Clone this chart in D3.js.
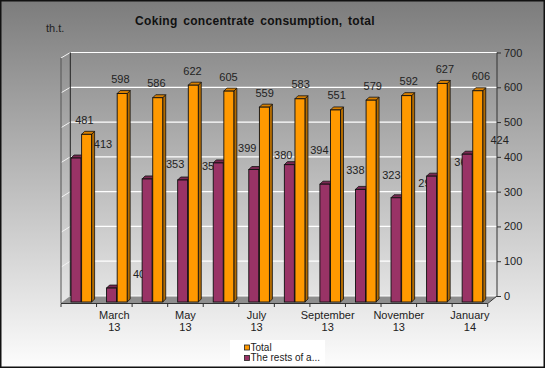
<!DOCTYPE html>
<html>
<head>
<meta charset="utf-8">
<script src="https://cdn.jsdelivr.net/npm/d3@7"></script>
<style>
  html, body { margin: 0; padding: 0; background: #fff; }
  svg { display: block; }
  text { font-family: "Liberation Sans", Arial, sans-serif; }
</style>
</head>
<body>
<svg id="chart" width="545" height="368"></svg>
<script>
// ---- data ----
const categories = ["February 13", "March 13", "April 13", "May 13", "June 13", "July 13",
  "August 13", "September 13", "October 13", "November 13", "December 13", "January 14"];
const totalValues = [481, 598, 586, 622, 605, 559, 583, 551, 579, 592, 627, 606];
const restValues  = [413, 40, 353, 350, 399, 380, 394, 338, 323, 299, 361, 424];
const seriesNames = ["Total", "The rests of a..."];
const yTicks = [0, 100, 200, 300, 400, 500, 600, 700];
const titleText = "Coking concentrate  consumption, total";
const unitText = "th.t.";

// ---- layout ----
const W = 545, H = 368;
const svg = d3.select("#chart");
const defs = svg.append("defs");
const grad = defs.append("linearGradient").attr("id", "bg").attr("x1", 0).attr("y1", 0).attr("x2", 0).attr("y2", 1);
grad.append("stop").attr("offset", "0%").attr("stop-color", "#7c7c7c");
grad.append("stop").attr("offset", "100%").attr("stop-color", "#fdfdfd");

svg.append("rect").attr("x", 0).attr("y", 0).attr("width", W).attr("height", H).attr("fill", "url(#bg)");

const front = { left: 61, right: 487.7, bottom: 302, top: 58 };
const DX = 9.3, DY = -6;   // depth offset from front plane to back wall
const BD = 3;              // bar depth

const x = d3.scaleBand().domain(categories).range([front.left, front.right]).padding(0);
const inner = d3.scaleBand().domain(["rest", "total"]).range([10, 30.6]).paddingInner(0.06);
const yF = d3.scaleLinear().domain([0, 700]).range([front.bottom, front.top]);
const yB = d3.scaleLinear().domain([0, 700]).range([front.bottom + DY, 52.5]);
const labX = d3.scaleBand().domain(categories).range([57, 57 + 12 * 36.05]);

const backL = front.left + DX, backR = front.right + DX;

// floor
svg.append("polygon")
  .attr("points", [[backL, yB(0)], [backR, yB(0)], [front.right, front.bottom + 1], [front.left, front.bottom + 1]].map(p => p.join(",")).join(" "))
  .attr("fill", "#8e8e8e");

// gridlines on back wall and left wall
yTicks.forEach(t => {
  svg.append("line").attr("x1", backL).attr("x2", backR).attr("y1", yB(t)).attr("y2", yB(t))
    .attr("stroke", "#ffffff").attr("stroke-width", 1.2);
  if (t > 0) {
    svg.append("line").attr("x1", front.left).attr("y1", yF(t)).attr("x2", backL).attr("y2", yB(t))
      .attr("stroke", "#f4f4f4").attr("stroke-width", 1);
  }
});
// left wall edges
svg.append("line").attr("x1", backL).attr("x2", backL).attr("y1", yB(700)).attr("y2", yB(0))
  .attr("stroke", "#222").attr("stroke-width", 1);
svg.append("line").attr("x1", front.left).attr("x2", front.left).attr("y1", yF(700)).attr("y2", front.bottom + 1)
  .attr("stroke", "#555").attr("stroke-width", 1);

// right axis
const rAxis = svg.append("g").attr("transform", `translate(${backR},0)`)
  .call(d3.axisRight(yB).tickValues(yTicks).tickSize(4).tickPadding(3).tickFormat(d3.format("d")));
rAxis.select(".domain").attr("stroke", "#333").attr("d", `M0,${yB(700)}V${yB(0)}`);
rAxis.selectAll(".tick line").attr("stroke", "#333");
rAxis.selectAll(".tick text").attr("fill", "#222").style("font-size", "11px")
  .style("font-family", "'Liberation Sans', Arial, sans-serif");

// bottom axis line
const axY = front.bottom + 1.5;
svg.append("path")
  .attr("d", `M${front.left},${axY}H${front.right}L${backR},${yB(0)}`)
  .attr("fill", "none").attr("stroke", "#333").attr("stroke-width", 1);
const bounds = categories.map(c => x(c)).concat([x(categories[categories.length - 1]) + x.bandwidth()]);
svg.selectAll(".xtick").data(bounds).enter().append("line")
  .attr("x1", d => d).attr("x2", d => d).attr("y1", axY).attr("y2", axY + 3.5)
  .attr("stroke", "#333");
categories.forEach((c, i) => {
  if (i % 2 === 1) {
    const parts = c.split(" ");
    const t = svg.append("text").attr("x", x(c) + x.bandwidth() / 2).attr("y", 319)
      .attr("text-anchor", "middle").attr("fill", "#222").style("font-size", "11px");
    t.append("tspan").attr("x", x(c) + x.bandwidth() / 2).attr("dy", 0).text(parts[0]);
    t.append("tspan").attr("x", x(c) + x.bandwidth() / 2).attr("dy", 11.7).text(parts[1]);
  }
});

// bars
const colors = {
  rest: { front: "#993366", side: "#662244", top: "#7a2952" },
  total: { front: "#ff9900", side: "#b36b00", top: "#d98000" }
};
function bar3d(g, x0, w, v, c) {
  const y0 = yF(0), y1 = yF(v);
  g.append("polygon").attr("points", [[x0 + w, y1], [x0 + w + BD, y1 - BD], [x0 + w + BD, y0 - BD], [x0 + w, y0]].map(p => p.join(",")).join(" "))
    .attr("fill", c.side).attr("stroke", "#111").attr("stroke-width", 0.8).attr("stroke-linejoin", "round");
  g.append("polygon").attr("points", [[x0, y1], [x0 + BD, y1 - BD], [x0 + w + BD, y1 - BD], [x0 + w, y1]].map(p => p.join(",")).join(" "))
    .attr("fill", c.top).attr("stroke", "#111").attr("stroke-width", 0.8).attr("stroke-linejoin", "round");
  g.append("rect").attr("x", x0).attr("y", y1).attr("width", w).attr("height", y0 - y1)
    .attr("fill", c.front).attr("stroke", "#111").attr("stroke-width", 0.9);
}
categories.forEach((c, i) => {
  const g = svg.append("g");
  const xr = x(c) + inner("rest"), xt = x(c) + inner("total"), w = inner.bandwidth();
  bar3d(g, xr, w, restValues[i], colors.rest);
  bar3d(g, xt, w, totalValues[i], colors.total);
  const lc = labX(c) + labX.bandwidth() / 2;
  g.append("text").attr("x", lc + 9.3).attr("y", yF(totalValues[i]) - 10.5)
    .attr("text-anchor", "middle").attr("fill", "#222").style("font-size", "11px").text(totalValues[i]);
  g.append("text").attr("x", lc + 28).attr("y", yF(restValues[i]) - 10.5)
    .attr("text-anchor", "middle").attr("fill", "#222").style("font-size", "11px").text(restValues[i]);
});

// title & unit
svg.append("text").attr("x", 255).attr("y", 25).attr("text-anchor", "middle")
  .attr("fill", "#111").style("font-size", "12px").style("font-weight", "bold")
  .style("letter-spacing", "0.3px").style("word-spacing", "2px").text(titleText);
svg.append("text").attr("x", 46).attr("y", 32).attr("fill", "#222").style("font-size", "11px").text(unitText);

// legend
const lg = svg.append("g");
lg.append("rect").attr("x", 230).attr("y", 340).attr("width", 95).attr("height", 25).attr("fill", "#ffffff");
const legendItems = [{ name: seriesNames[0], c: colors.total.front }, { name: seriesNames[1], c: colors.rest.front }];
legendItems.forEach((d, i) => {
  lg.append("rect").attr("x", 244.5).attr("y", 345 + i * 10.5).attr("width", 5).attr("height", 5)
    .attr("fill", d.c).attr("stroke", "#222").attr("stroke-width", 0.8);
  lg.append("text").attr("x", 250.5).attr("y", 350.5 + i * 10.5).attr("fill", "#222")
    .style("font-size", "10px").text(d.name);
});

// outer border
svg.append("rect").attr("x", 0.75).attr("y", 0.75).attr("width", W - 1.5).attr("height", H - 1.5)
  .attr("fill", "none").attr("stroke", "#111").attr("stroke-width", 1.5);
</script>
</body>
</html>
